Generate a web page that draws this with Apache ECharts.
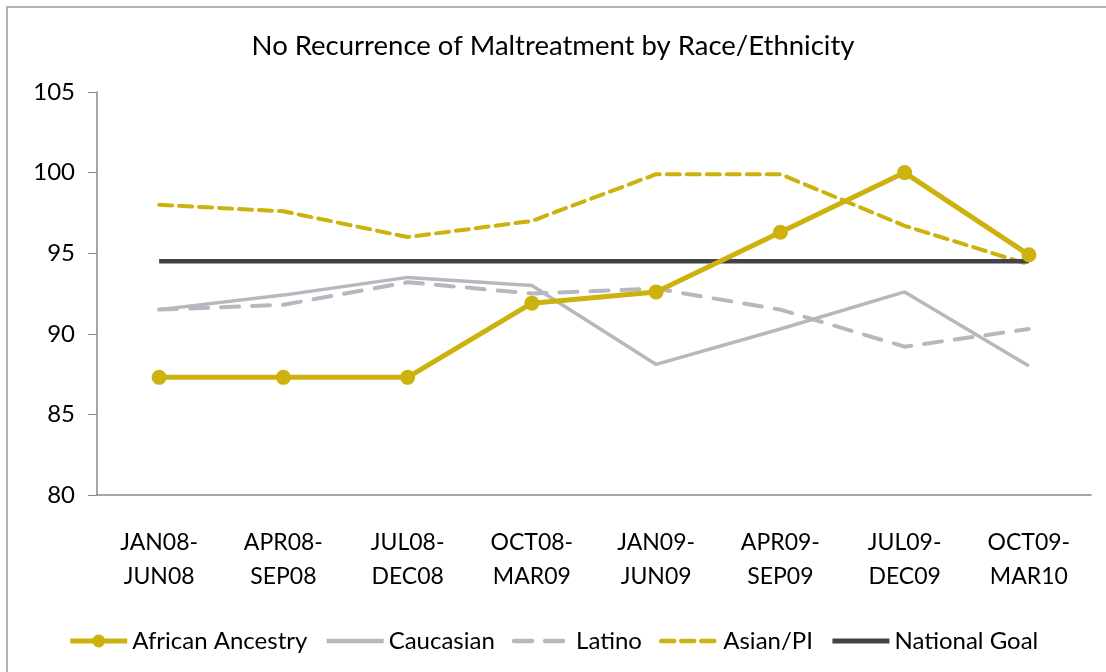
<!DOCTYPE html>
<html>
<head>
<meta charset="utf-8">
<script src="https://cdn.jsdelivr.net/npm/echarts@6/dist/echarts.min.js"></script>
<style>
html,body{margin:0;padding:0;background:#fff;}
#chart{width:1106px;height:672px;}
</style>
</head>
<body>
<div id="chart"></div>
<script>
const categories = ["JAN08-\nJUN08","APR08-\nSEP08","JUL08-\nDEC08","OCT08-\nMAR09","JAN09-\nJUN09","APR09-\nSEP09","JUL09-\nDEC09","OCT09-\nMAR10"];
const africanAncestry = [87.3, 87.3, 87.3, 91.9, 92.6, 96.3, 100.0, 94.9];
const caucasian = [91.5, 92.4, 93.5, 93.0, 88.1, 90.3, 92.6, 88.0];
const latino = [91.5, 91.8, 93.2, 92.5, 92.8, 91.5, 89.2, 90.3];
const asianPI = [98.0, 97.6, 96.0, 97.0, 99.9, 99.9, 96.7, 94.3];
const nationalGoal = [94.5, 94.5, 94.5, 94.5, 94.5, 94.5, 94.5, 94.5];
const yTicks = {min: 80, max: 105, interval: 5};
const legendNames = ['African Ancestry', 'Caucasian', 'Latino', 'Asian/PI', 'National Goal'];

const FONT = 'Lato';
const GOLD = '#CDB10C';
const LGRAY = '#B7B8BF';
const DARK = '#404349';

const chart = echarts.init(document.getElementById('chart'), null, {renderer: 'canvas'});
chart.setOption({
  backgroundColor: '#fff',
  animation: false,
  title: {
    text: 'No Recurrence of Maltreatment by Race/Ethnicity',
    left: 'center', top: 27,
    textStyle: {fontFamily: FONT, fontSize: 27.5, fontWeight: 'normal', color: '#000'}
  },
  graphic: [{
    type: 'rect', shape: {x: 7, y: 7, width: 1120, height: 700},
    style: {fill: 'none', stroke: '#9A9A9A', lineWidth: 1.5}, silent: true
  }],
  grid: {left: 97, right: 15, top: 92, bottom: 177, containLabel: false},
  legend: {
    bottom: 14, left: 'center',
    itemWidth: 57, itemHeight: 16, itemGap: 17,
    textStyle: {fontFamily: FONT, fontSize: 24, color: '#000'},
    data: legendNames.map(n => n === 'African Ancestry'
      ? {name: n, lineStyle: {width: 5}}
      : {name: n, itemStyle: {opacity: 0}, lineStyle: {width: n === 'National Goal' ? 5 : 4.5}})
  },
  xAxis: {
    type: 'category', data: categories, boundaryGap: true,
    axisLine: {lineStyle: {color: '#888', width: 1.5}},
    axisTick: {alignWithLabel: true, inside: true, length: 8, lineStyle: {color: '#888'}},
    axisLabel: {fontFamily: FONT, fontSize: 23, color: '#000', lineHeight: 34, margin: 31, interval: 0}
  },
  yAxis: {
    type: 'value', min: yTicks.min, max: yTicks.max, interval: yTicks.interval,
    axisLine: {show: true, lineStyle: {color: '#888', width: 1.5}},
    axisTick: {show: true, length: 9, lineStyle: {color: '#888'}},
    splitLine: {show: false},
    axisLabel: {fontFamily: FONT, fontSize: 24, color: '#000', margin: 22}
  },
  series: [
    {name: 'Latino', type: 'line', data: latino, symbol: 'none', z: 2,
     lineStyle: {color: LGRAY, width: 4, type: [18, 13], cap: 'round'}, itemStyle: {color: LGRAY}},
    {name: 'Caucasian', type: 'line', data: caucasian, symbol: 'none', z: 3,
     lineStyle: {color: LGRAY, width: 3.5}, itemStyle: {color: LGRAY}},
    {name: 'Asian/PI', type: 'line', data: asianPI, symbol: 'none', z: 4,
     lineStyle: {color: GOLD, width: 4, type: [13, 7], cap: 'round'}, itemStyle: {color: GOLD}},
    {name: 'National Goal', type: 'line', data: nationalGoal, symbol: 'none', z: 5,
     lineStyle: {color: DARK, width: 4.5}, itemStyle: {color: DARK}},
    {name: 'African Ancestry', type: 'line', data: africanAncestry, symbol: 'circle', symbolSize: 15, z: 6,
     lineStyle: {color: GOLD, width: 5}, itemStyle: {color: GOLD}}
  ]
});
</script>
</body>
</html>
